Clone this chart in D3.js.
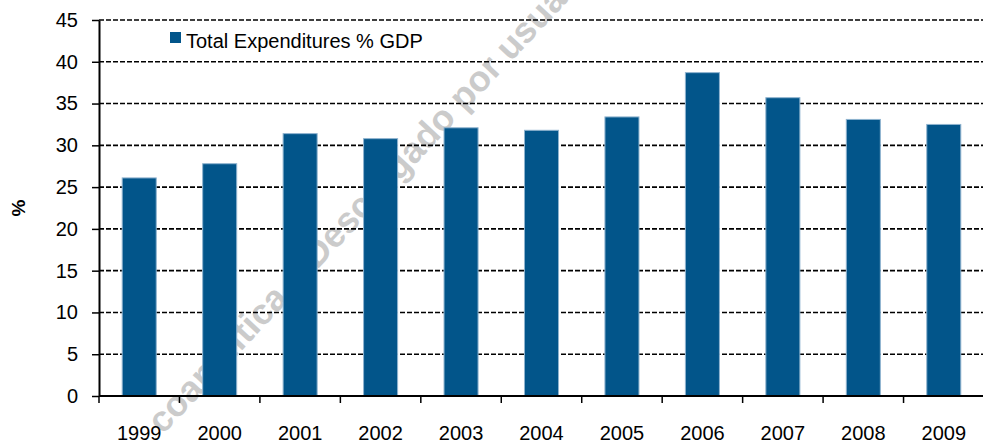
<!DOCTYPE html>
<html>
<head>
<meta charset="utf-8">
<script src="https://cdnjs.cloudflare.com/ajax/libs/d3/7.8.5/d3.min.js"></script>
<style>
  body { margin: 0; background: #fff; }
  svg { display: block; font-family: Arial, "Liberation Sans", sans-serif; }
</style>
</head>
<body>
<div id="chart"></div>
<script>
// values
var years = ["1999", "2000", "2001", "2002", "2003", "2004", "2005", "2006", "2007", "2008", "2009"];
var expenditures = [26.1, 27.8, 31.4, 30.8, 32.1, 31.8, 33.4, 38.7, 35.7, 33.1, 32.5];
var yTicks = [0, 5, 10, 15, 20, 25, 30, 35, 40, 45];
var seriesName = "Total Expenditures % GDP";

var width = 983, height = 445;
var plotLeft = 99, plotRight = 984, plotTop = 20, plotBottom = 396;
var barColor = "#02558a";

var svg = d3.select("#chart").append("svg")
    .attr("width", width)
    .attr("height", height);

var x = d3.scaleBand()
    .domain(years)
    .range([plotLeft, plotRight])
    .paddingInner(0.577)
    .paddingOuter(0.2885);

var y = d3.scaleLinear()
    .domain([0, 45])
    .range([plotBottom, plotTop]);

// watermark, sits behind everything
var wm = svg.append("g")
    .attr("transform", "translate(317,270) rotate(-47)")
    .style("font-size", "36px")
    .style("font-weight", "bold")
    .style("fill", "#cbcbcb");
wm.append("text").attr("text-anchor", "end").text("coanalítica –\u00a0");
wm.append("text").attr("text-anchor", "start").text("Descargado por usuario");

// gridlines
svg.append("g").selectAll("line")
    .data(yTicks.filter(function(d) { return d > 0; }))
    .enter().append("line")
    .attr("x1", plotLeft)
    .attr("x2", width)
    .attr("y1", function(d) { return y(d); })
    .attr("y2", function(d) { return y(d); })
    .attr("stroke", "#000")
    .attr("stroke-width", 1.6)
    .attr("stroke-dasharray", "5,2");

// bars
svg.append("g").selectAll("rect")
    .data(expenditures)
    .enter().append("rect")
    .attr("x", function(d, i) { return x(years[i]); })
    .attr("width", x.bandwidth())
    .attr("y", function(d) { return y(d); })
    .attr("height", function(d) { return y(0) - y(d); })
    .attr("fill", barColor)
    .attr("stroke", "#8fb3cf")
    .attr("stroke-width", 1);

// y axis
var yAxis = svg.append("g")
    .attr("transform", "translate(" + plotLeft + ",0)")
    .call(d3.axisLeft(y).tickValues(yTicks).tickSize(7).tickSizeOuter(0).tickPadding(14));
yAxis.select(".domain").attr("stroke", "#000").attr("stroke-width", 2);
yAxis.selectAll(".tick line").attr("stroke", "#000").attr("stroke-width", 1.5);
yAxis.selectAll(".tick text")
    .style("font-size", "20px")
    .style("font-family", "Arial, 'Liberation Sans', sans-serif")
    .attr("fill", "#000");

// x axis: labels under bands, ticks between bands
var xAxis = svg.append("g")
    .attr("transform", "translate(0," + plotBottom + ")")
    .call(d3.axisBottom(x).tickSize(0).tickPadding(30));
xAxis.select(".domain").remove();
xAxis.selectAll(".tick text")
    .style("font-size", "20px")
    .style("font-family", "Arial, 'Liberation Sans', sans-serif")
    .attr("fill", "#000");

var half = x.step() * x.paddingInner() / 2;
var bounds = years.map(function(d) { return x(d) - half; });
svg.append("g").selectAll("line")
    .data(bounds)
    .enter().append("line")
    .attr("x1", function(d) { return d; })
    .attr("x2", function(d) { return d; })
    .attr("y1", plotBottom)
    .attr("y2", plotBottom + 7)
    .attr("stroke", "#000")
    .attr("stroke-width", 1.5);

svg.append("line")
    .attr("x1", plotLeft)
    .attr("x2", width)
    .attr("y1", plotBottom)
    .attr("y2", plotBottom)
    .attr("stroke", "#000")
    .attr("stroke-width", 2);

// y label
svg.append("text")
    .attr("transform", "translate(25,208) rotate(-90)")
    .attr("text-anchor", "middle")
    .style("font-size", "19px")
    .style("font-weight", "bold")
    .text("%");

// legend
svg.append("rect")
    .attr("x", 170)
    .attr("y", 32)
    .attr("width", 11)
    .attr("height", 11)
    .attr("fill", barColor);
svg.append("text")
    .attr("x", 186)
    .attr("y", 48)
    .style("font-size", "20px")
    .attr("fill", "#000")
    .text(seriesName);
</script>
</body>
</html>
